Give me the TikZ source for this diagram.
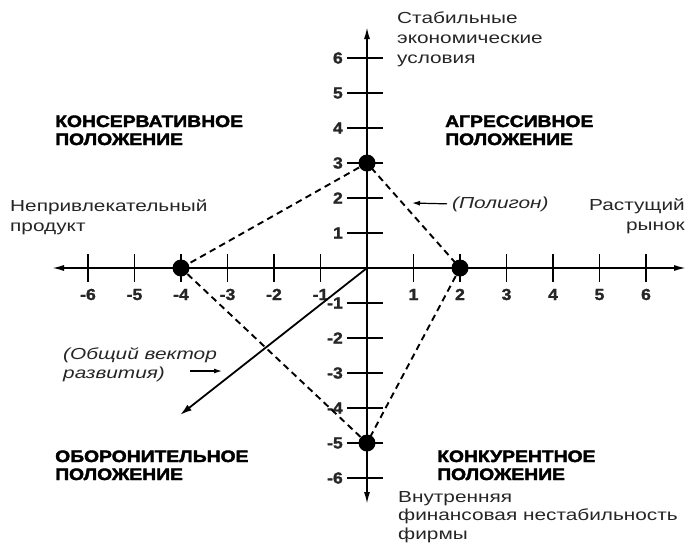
\documentclass[tikz,border=0pt]{standalone}
\usepackage{fontspec}
\setmainfont{Liberation Sans}[FakeStretch=1.3]
\newfontfamily\headfont{Liberation Sans}[FakeStretch=1.17,BoldFeatures={FakeBold=2.5}]
\newfontfamily\numfont{Liberation Sans}[FakeStretch=1.1,BoldFeatures={FakeBold=1.5}]
\usetikzlibrary{arrows.meta}
\tikzset{
  txt/.style={inner sep=0pt, align=left, anchor=base west, text=black!85,
    font=\fontsize{16}{20}\selectfont},
  itxt/.style={txt, font=\itshape\fontsize{16}{19}\selectfont},
  head/.style={inner sep=0pt, align=left, anchor=base west, text=black,
    font=\headfont\bfseries\fontsize{16.5}{18}\selectfont},
  numlab/.style={inner sep=0pt, text=black!85, font=\numfont\bfseries\fontsize{16}{16}\selectfont},
  axisline/.style={line width=1.6pt, {Latex[length=12pt,width=6pt]}-{Latex[length=12pt,width=6pt]}},
  tickline/.style={line width=1.2pt},
  dot/.style={circle, fill=black, inner sep=0pt, minimum size=17pt},
  polyline/.style={line width=1.9pt, dash pattern=on 6.5pt off 4.5pt},
  vecline/.style={line width=1.8pt, -{Latex[length=12pt,width=7pt]}},
  pointer/.style={line width=1.2pt, -{Latex[length=8pt,width=5pt]}}
}
\begin{document}
\begin{tikzpicture}[x=1pt,y=-1pt]
\useasboundingbox (0,0) rectangle (686,544);
% axes
\coordinate (O) at (367,268);
\coordinate (xl) at (52,268);
\coordinate (xr) at (686,268);
\coordinate (yt) at (367,27);
\coordinate (yb) at (367,504);
\draw[axisline] (xl) -- (xr);
\draw[axisline] (yb) -- (yt);
% x ticks
\foreach \i in {-6,-5,-4,-3,-2,-1,1,2,3,4,5,6} {
  \draw[tickline] ({367+46.5*\i},254) -- ({367+46.5*\i},282);
  \node[numlab, anchor=base] (xlab\i) at ({367+46.5*\i},300) {\i};
}
% y ticks
\foreach \i in {-6,-5,-4,-3,-2,-1,1,2,3,4,5,6} {
  \draw[tickline] (347,{268-35*\i}) -- (383,{268-35*\i});
  \node[numlab, anchor=east] (ylab\i) at (343,{268-35*\i}) {\i};
}
% polygon
\coordinate (cA) at (181,268);
\coordinate (cB) at (367,163);
\coordinate (cC) at (460,268);
\coordinate (cD) at (367,443);
\draw[polyline] (cA) -- (cB) -- (cC) -- (cD) -- cycle;
\node[dot] (pA) at (cA) {};
\node[dot] (pB) at (cB) {};
\node[dot] (pC) at (cC) {};
\node[dot] (pD) at (cD) {};
% vector
\coordinate (vt) at (180,415);
\draw[vecline] (O) -- (vt);
% quadrant headings (base = last line)
\node[head] (hcons) at (55,145) {КОНСЕРВАТИВНОЕ\\ПОЛОЖЕНИЕ};
\node[head] (haggr) at (445,145) {АГРЕССИВНОЕ\\ПОЛОЖЕНИЕ};
\node[head] (hdef) at (55,480) {ОБОРОНИТЕЛЬНОЕ\\ПОЛОЖЕНИЕ};
\node[head] (hcomp) at (437,480) {КОНКУРЕНТНОЕ\\ПОЛОЖЕНИЕ};
% axis labels
\node[txt] (lstab) at (397,63) {Стабильные\\экономические\\условия};
\node[txt] (lunatt) at (10,231) {Непривлекательный\\продукт};
\node[txt, align=right, anchor=base east] (lgrow) at (685,230) {Растущий\\рынок};
\node[txt, font=\fontsize{16}{18.5}\selectfont] (lfin) at (398,539) {Внутренняя\\финансовая нестабильность\\фирмы};
% annotations
\node[itxt] (lpoly) at (452,208) {(Полигон)};
\coordinate (pa2) at (412,203);
\draw[pointer] ([xshift=-5pt]lpoly.west) -- (pa2);
\node[itxt] (lvec) at (63,378) {(Общий вектор\\развития)};
\coordinate (pv1) at (190,371);
\coordinate (pv2) at (222,371);
\draw[pointer] (pv1) -- (pv2);
\end{tikzpicture}
\end{document}
